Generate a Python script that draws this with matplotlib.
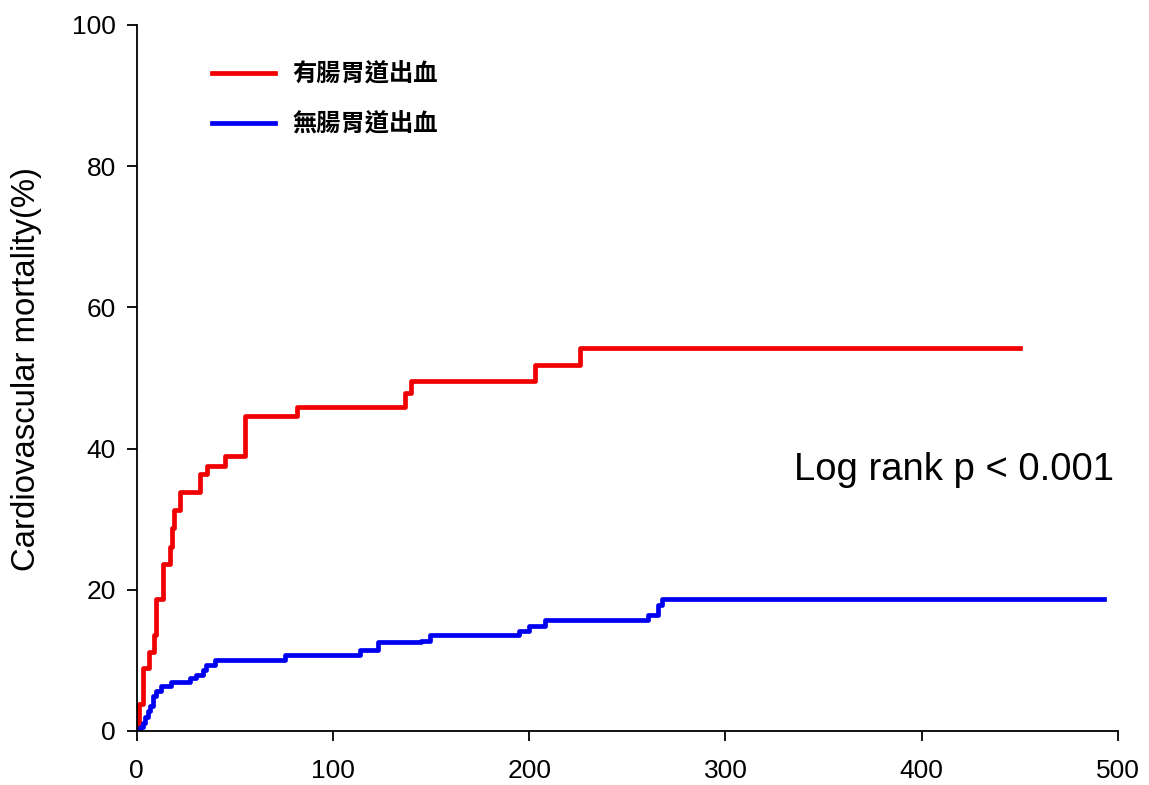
import matplotlib
matplotlib.use("Agg")
import matplotlib.pyplot as plt

# days vs cumulative cardiovascular mortality (%)
gi_bleed_t = [0, 1, 3, 6, 8.7, 9.7, 13.4, 16.8, 18, 19, 21.9, 32, 35.8, 45, 55,
              81.5, 136.6, 140, 203, 225.8, 450]
gi_bleed_v = [0, 3.8, 8.9, 11.2, 13.6, 18.7, 23.7, 26.1, 28.7, 31.3, 33.8, 36.4,
              37.5, 38.9, 44.6, 45.9, 47.8, 49.6, 51.9, 54.2, 54.2]

no_bleed_t = [0, 1.5, 3, 4, 5.5, 6.6, 8.3, 10, 12.6, 17.7, 27, 30, 33.8, 35.5,
              39.8, 75.4, 113.7, 123, 145, 149.3, 195, 200, 208, 260.5, 265.5,
              267.4, 493]
no_bleed_v = [0, 0.5, 1.2, 2.0, 2.8, 3.6, 4.9, 5.6, 6.4, 7.0, 7.5, 8.0, 8.6, 9.3,
              10.1, 10.8, 11.5, 12.6, 12.8, 13.6, 14.1, 14.8, 15.7, 16.4, 17.8,
              18.7, 18.7]

labels = ["有腸胃道出血", "無腸胃道出血"]
x_ticks = [0, 100, 200, 300, 400, 500]
y_ticks = [0, 20, 40, 60, 80, 100]

plt.rcParams['font.family'] = ['Liberation Sans', 'DejaVu Sans']

fig = plt.figure(figsize=(11.49, 7.85), dpi=100)
ax = fig.add_axes([0.119, 0.0688, 0.854, 0.8995])

l1, = ax.step(gi_bleed_t, gi_bleed_v, where='post', color='#f00000', lw=3.4)
l2, = ax.step(no_bleed_t, no_bleed_v, where='post', color='#0000f0', lw=3.4)

ax.set_xlim(0, 500)
ax.set_ylim(0, 100)
ax.set_xticks(x_ticks)
ax.set_yticks(y_ticks)
ax.spines['top'].set_visible(False)
ax.spines['right'].set_visible(False)
for s in ('left', 'bottom'):
    ax.spines[s].set_linewidth(1.3)
ax.tick_params(direction='out', length=7, width=1.3, labelsize=19, pad=8)
ax.tick_params(axis='x', pad=13)

ax.set_ylabel("Cardiovascular mortality(%)", fontsize=23.7)
ax.yaxis.set_label_coords(-0.097, 0.512)
ax.text(335, 37, "Log rank p < 0.001", fontsize=27.5, va='center', ha='left')

leg = ax.legend([l1, l2], labels, loc='upper left',
                bbox_to_anchor=(0.0765, 0.9465), frameon=False,
                borderpad=0, borderaxespad=0, handlelength=2.6,
                handletextpad=0.72, labelspacing=1.08,
                prop={'family': ['Noto Sans CJK TC', 'DejaVu Sans'],
                      'weight': 'bold', 'size': 17.5})

fig.savefig("out.png", dpi=100)
